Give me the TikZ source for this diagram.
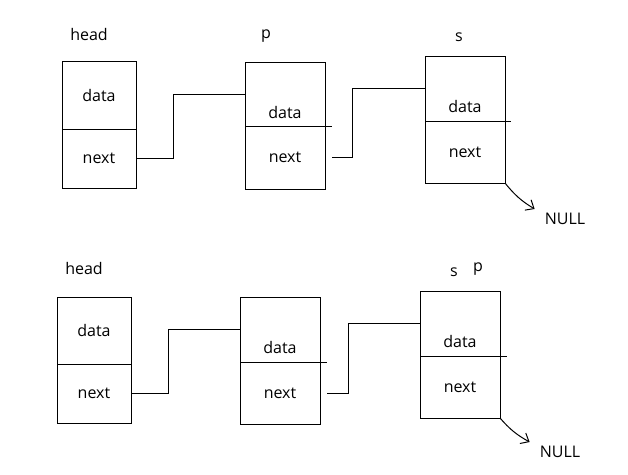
\documentclass[tikz,border=0pt]{standalone}
\usepackage{fontspec}
\setmainfont{Open Sans}
\usetikzlibrary{arrows.meta,positioning}
\newcommand{\listfont}{\fontsize{16}{19}\selectfont}

\begin{document}
\begin{tikzpicture}[
    x=1pt, y=-1pt,
    cell/.style={rectangle, draw=black, line width=1pt, inner sep=0pt, outer sep=0pt,
                 minimum width=80pt, font=\listfont},
    narrow/.style={minimum width=74pt},
    sunk/.style={font=\listfont, yshift=-18pt},
    tag/.style={font=\listfont, inner sep=0pt},
    link/.style={line width=1pt, draw=black},
    arr/.style={-{Straight Barb[length=7pt, width=12pt]}, line width=1pt, draw=black}
]
    \useasboundingbox (0,0) rectangle (628,474);

    % list before the step
    \node[cell, narrow, minimum height=68pt] (h1d) at (99,95) {data};
    \node[cell, narrow, minimum height=59pt, below=0pt of h1d] (h1n) {next};
    \node[cell, minimum height=64pt, label={[sunk]center:data}] (p1d) at (285,94) {};
    \node[cell, minimum height=63pt, below=0pt of p1d] (p1n) {next};
    \node[cell, minimum height=65pt, label={[sunk]center:data}] (s1d) at (465,88.5) {};
    \node[cell, minimum height=62pt, below=0pt of s1d] (s1n) {next};

    \node[tag] (head1) at (89,34) {head};
    \node[tag] (p1) at (266,36) {p};
    \node[tag] (s1) at (459,37) {s};
    \node[tag] (null1) at (565,219) {NULL};

    \draw[link] (p1d.south east) -- ++(7,0);
    \draw[link] (s1d.south east) -- ++(6,0);

    \draw[link] (h1n.east) -- ++(37,0) |- (p1d.west);
    \draw[link, shorten <=7pt] (p1n.east) -- ++(27,0) |- (s1d.west);
    \draw[arr] (s1n.south east) to[bend right=10] ([xshift=-10pt, yshift=4pt]null1.north west);

    % list after the step
    \node[cell, narrow, minimum height=67pt] (h2d) at (94,330.5) {data};
    \node[cell, narrow, minimum height=59pt, below=0pt of h2d] (h2n) {next};
    \node[cell, minimum height=65pt, label={[sunk]center:data}] (p2d) at (280,329.5) {};
    \node[cell, minimum height=62pt, below=0pt of p2d] (p2n) {next};
    \node[cell, minimum height=65pt, label={[sunk]center:data}] (s2d) at (460,323.5) {};
    \node[cell, minimum height=62pt, below=0pt of s2d] (s2n) {next};

    \node[tag] (head2) at (84,268) {head};
    \node[tag] (s2) at (454,272) {s};
    \node[tag] (p2) at (478,269) {p};
    \node[tag] (null2) at (560,452) {NULL};

    \draw[link] (p2d.south east) -- ++(7,0);
    \draw[link] (s2d.south east) -- ++(7,0);

    \draw[link] (h2n.east) -- ++(37,0) |- (p2d.west);
    \draw[link, shorten <=7pt] (p2n.east) -- ++(28,0) |- (s2d.west);
    \draw[arr] (s2n.south east) to[bend right=10] ([xshift=-10pt, yshift=4pt]null2.north west);
\end{tikzpicture}
\end{document}
